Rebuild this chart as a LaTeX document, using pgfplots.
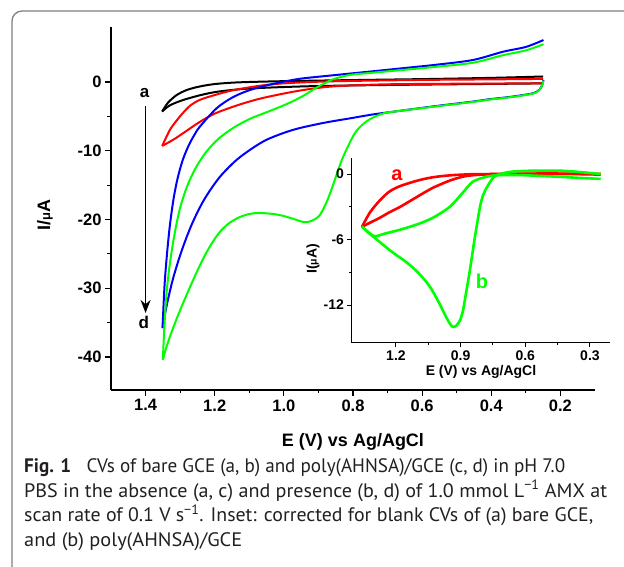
\documentclass[border=0pt]{standalone}
\usepackage{fontspec}
\setmainfont{Liberation Sans}
\newfontfamily\capfont{PT Sans}
\usepackage{graphicx}
\usepackage{pgfplots}
\pgfplotsset{compat=1.18}
\usetikzlibrary{arrows.meta}
\definecolor{cvgreen}{RGB}{0,255,0}
\definecolor{cvblue}{RGB}{0,0,255}
\definecolor{cvred}{RGB}{255,0,0}
\definecolor{framegray}{RGB}{128,128,128}
\definecolor{captext}{RGB}{35,31,32}
\begin{document}
\begin{tikzpicture}
\useasboundingbox (0pt,0pt) rectangle (624pt,567pt);
\draw[framegray, line width=1.3pt, rounded corners=10pt] (12pt,0pt) -- (12pt,556pt) -- (624pt,556pt);

% ---------------- main axis ----------------
\begin{axis}[
  name=main, scale only axis, width=484pt, height=363pt,
  at={(111pt,177pt)}, anchor=south west,
  x dir=reverse, xmin=0.1, xmax=1.5, ymin=-44.8, ymax=8,
  axis x line*=bottom, axis y line*=left,
  x axis line style={-}, y axis line style={-},
  axis line style={line width=1.2pt},
  xtick={0.2,0.4,0.6,0.8,1.0,1.2,1.4},
  xticklabels={0.2,0.4,0.6,0.8,1.0,1.2,1.4},
  ytick={-40,-30,-20,-10,0},
  yticklabels={-40,-30,-20,-10,0},
  minor x tick num=1, minor y tick num=1,
  tick align=outside, major tick length=6pt, minor tick length=3.5pt,
  every tick/.style={line width=1.2pt, black},
  ticklabel style={font=\fontsize{16.5}{18}\selectfont\bfseries},
  clip=false,
]
% a: bare GCE blank (black)
\addplot[black, line width=2pt, smooth, tension=0.5] coordinates {
(0.25,0.8) (0.4,0.6) (0.6,0.42) (0.8,0.28) (1.0,0.12) (1.1,0.0) (1.15,-0.1) (1.2,-0.3) (1.243,-0.65) (1.28,-1.15) (1.31,-1.9) (1.335,-3.0) (1.352,-4.3)};
\addplot[black, line width=2pt, smooth, tension=0.5] coordinates {
(1.352,-4.3) (1.33,-3.4) (1.29,-2.6) (1.24,-1.9) (1.19,-1.4) (1.1,-0.95) (0.95,-0.65) (0.8,-0.5) (0.6,-0.38) (0.4,-0.28) (0.25,-0.2)};
% b: bare GCE + AMX (red)
\addplot[cvred, line width=2pt, smooth, tension=0.5] coordinates {
(0.25,0.45) (0.4,0.38) (0.6,0.3) (0.86,0.1) (1.0,-0.2) (1.07,-0.55) (1.147,-1.2) (1.2,-1.9) (1.243,-2.6) (1.27,-3.4) (1.29,-4.4) (1.31,-5.6) (1.33,-7.0) (1.352,-9.3)};
\addplot[cvred, line width=2pt, smooth, tension=0.5] coordinates {
(1.352,-9.3) (1.32,-8.4) (1.29,-7.4) (1.243,-5.8) (1.2,-4.6) (1.147,-3.6) (1.1,-2.85) (1.05,-2.2) (0.954,-1.25) (0.86,-0.65) (0.714,-0.35) (0.5,-0.25) (0.25,-0.2)};
% c: poly(AHNSA)/GCE blank (blue)
\addplot[cvblue, line width=2pt, smooth, tension=0.5] coordinates {
(0.249,6.1) (0.3,5.1) (0.366,4.4) (0.453,3.2) (0.561,2.5) (0.657,2.0) (0.754,1.5) (0.853,1.0) (0.949,0.5) (1.0,0.05) (1.05,-0.5) (1.1,-1.2) (1.147,-2.2) (1.194,-3.8) (1.243,-6.5) (1.26,-7.8) (1.275,-9.2) (1.29,-11.0) (1.30,-12.6) (1.31,-14.6) (1.32,-17.3) (1.33,-21.0) (1.338,-25.0) (1.345,-29.5) (1.351,-35.8)};
\addplot[cvblue, line width=2pt, smooth, tension=0.5] coordinates {
(1.351,-35.8) (1.344,-33.8) (1.335,-31.6) (1.32,-28.5) (1.30,-25.2) (1.28,-22.4) (1.26,-20.0) (1.235,-17.5) (1.21,-15.5) (1.18,-13.5) (1.136,-11.3) (1.09,-9.6) (1.05,-8.4) (1.0,-7.4) (0.954,-6.7) (0.88,-5.9) (0.81,-5.3) (0.74,-4.7) (0.665,-4.2) (0.56,-3.5) (0.453,-2.85) (0.404,-2.5) (0.35,-2.2) (0.308,-1.9) (0.28,-1.65) (0.265,-1.3) (0.255,-0.7) (0.249,0.3)};
% d: poly(AHNSA)/GCE + AMX (green)
\addplot[cvgreen, line width=2pt, smooth, tension=0.5] coordinates {
(0.249,5.5) (0.3,4.6) (0.366,3.9) (0.453,2.8) (0.561,2.2) (0.657,1.75) (0.754,1.3) (0.8,1.1) (0.83,0.8) (0.86,0.35) (0.88,-0.15) (0.905,-0.8) (0.94,-1.9) (0.974,-2.8) (1.01,-3.6) (1.05,-4.4) (1.1,-5.4) (1.147,-6.7) (1.19,-8.3) (1.225,-10.2) (1.255,-12.5) (1.28,-15.2) (1.30,-18.3) (1.315,-21.8) (1.328,-25.8) (1.338,-30.0) (1.345,-35.0) (1.35,-40.4)};
\addplot[cvgreen, line width=2pt, smooth, tension=0.5] coordinates {
(1.35,-40.4) (1.34,-38.6) (1.325,-36.4) (1.305,-33.8) (1.285,-31.4) (1.265,-29.1) (1.245,-26.9) (1.225,-24.9) (1.205,-23.2) (1.185,-21.8) (1.16,-20.6) (1.13,-19.7) (1.10,-19.2) (1.071,-19.05) (1.03,-19.2) (1.0,-19.5) (0.97,-19.95) (0.94,-20.4) (0.92,-20.2) (0.9,-19.6) (0.885,-18.4) (0.87,-16.7) (0.853,-14.3) (0.832,-11.3) (0.81,-8.9) (0.794,-7.4) (0.775,-6.3) (0.754,-5.5) (0.73,-4.9) (0.707,-4.5) (0.657,-4.15) (0.56,-3.55) (0.453,-2.9) (0.404,-2.55) (0.35,-2.25) (0.308,-1.95) (0.28,-1.7) (0.265,-1.35) (0.255,-0.75) (0.249,0.2)};
% arrow a -> d
\draw[line width=1.5pt, -{Stealth[length=13pt, width=10pt]}] (axis cs:1.4,-3.5) -- (axis cs:1.4,-33.6);
\node[font=\fontsize{17}{18}\selectfont\bfseries] at (axis cs:1.403,-1.6) {a};
\node[font=\fontsize{17}{18}\selectfont\bfseries] at (axis cs:1.405,-34.9) {d};
\end{axis}

% ---------------- inset axis ----------------
\begin{axis}[
  name=inset, scale only axis, width=258pt, height=185pt,
  at={(352pt,224pt)}, anchor=south west,
  x dir=reverse, xmin=0.207, xmax=1.404, ymin=-15.48, ymax=1.47,
  axis x line*=bottom, axis y line*=left,
  x axis line style={-}, y axis line style={-},
  axis line style={line width=1pt},
  xtick={0.3,0.6,0.9,1.2}, xticklabels={0.3,0.6,0.9,1.2},
  ytick={-12,-6,0}, yticklabels={-12,-6,0},
  minor x tick num=1, minor y tick num=1,
  tick align=outside, major tick length=4.5pt, minor tick length=2.5pt,
  every tick/.style={line width=1pt, black},
  ticklabel style={font=\fontsize{14}{16}\selectfont\bfseries},
  clip=false,
]
\addplot[cvred, line width=2.6pt, smooth, tension=0.5] coordinates {
(0.25,-0.05) (0.4,0.0) (0.6,0.0) (0.75,0.0) (0.85,-0.02) (0.95,-0.12) (1.03,-0.3) (1.1,-0.6) (1.18,-1.1) (1.23,-1.6) (1.274,-2.4) (1.32,-3.5) (1.358,-4.85)};
\addplot[cvred, line width=2.6pt, smooth, tension=0.5] coordinates {
(1.358,-4.85) (1.33,-4.55) (1.274,-4.0) (1.23,-3.5) (1.18,-3.0) (1.12,-2.3) (1.06,-1.6) (1.028,-1.25) (0.95,-0.6) (0.88,-0.2) (0.8,-0.05) (0.7,0.0) (0.5,0.05) (0.25,0.0)};
\addplot[cvgreen, line width=2.6pt, smooth, tension=0.5] coordinates {
(0.25,-0.45) (0.35,-0.35) (0.5,-0.2) (0.62,-0.1) (0.72,-0.1) (0.78,-0.25) (0.843,-0.7) (0.894,-1.8) (0.95,-3.0) (1.028,-4.0) (1.1,-4.6) (1.181,-5.1) (1.25,-5.45) (1.3,-5.7) (1.33,-5.3) (1.358,-4.8)};
\addplot[cvgreen, line width=2.6pt, smooth, tension=0.5] coordinates {
(1.358,-4.8) (1.32,-5.5) (1.28,-6.15) (1.24,-6.8) (1.2,-7.4) (1.16,-7.95) (1.12,-8.6) (1.08,-9.4) (1.04,-10.4) (1.0,-11.8) (0.97,-13.0) (0.95,-13.7) (0.936,-14.0) (0.92,-13.9) (0.903,-13.4) (0.89,-12.6) (0.88,-11.5) (0.857,-8.8) (0.834,-5.8) (0.81,-3.0) (0.795,-1.9) (0.778,-1.2) (0.755,-0.5) (0.732,-0.1) (0.67,0.2) (0.58,0.3) (0.43,0.3) (0.33,0.15) (0.25,0.0)};
\node[cvred, font=\fontsize{20}{22}\selectfont\bfseries] at (axis cs:1.195,-0.1) {a};
\node[cvgreen, font=\fontsize{20}{22}\selectfont\bfseries] at (axis cs:0.801,-9.8) {b};
\end{axis}

% axis labels
\node[font=\fontsize{18}{20}\selectfont\bfseries] at (353pt,125pt) {E (V) vs Ag/AgCl};
\node[rotate=90, font=\fontsize{18}{20}\selectfont\bfseries] at (45pt,352pt) {I/{\fontsize{13}{14}\selectfont μ}A};
\node[font=\fontsize{14}{16}\selectfont\bfseries] at (481pt,195pt) {E (V) vs Ag/AgCl};
\node[rotate=90, font=\fontsize{14}{16}\selectfont\bfseries] at (313pt,308pt) {I({\fontsize{10.5}{12}\selectfont μ}A)};

% caption
\begin{scope}[every node/.style={anchor=base west, inner sep=0pt, font=\capfont\fontsize{19.5}{22}\selectfont, text=captext}]
\node at (24pt,94pt) {\resizebox{541pt}{\height}{\textbf{Fig. 1}\hspace{0.8em}CVs of bare GCE (a, b) and poly(AHNSA)/GCE (c, d) in pH 7.0}};
\node at (24pt,69.5pt) {\resizebox{583pt}{\height}{PBS in the absence (a, c) and presence (b, d) of 1.0 mmol L\textsuperscript{−1} AMX at}};
\node at (24pt,45pt) {\resizebox{569pt}{\height}{scan rate of 0.1 V s\textsuperscript{−1}. Inset: corrected for blank CVs of (a) bare GCE,}};
\node at (24pt,20.5pt) {\resizebox{218pt}{\height}{and (b) poly(AHNSA)/GCE}};
\end{scope}
\end{tikzpicture}
\end{document}
